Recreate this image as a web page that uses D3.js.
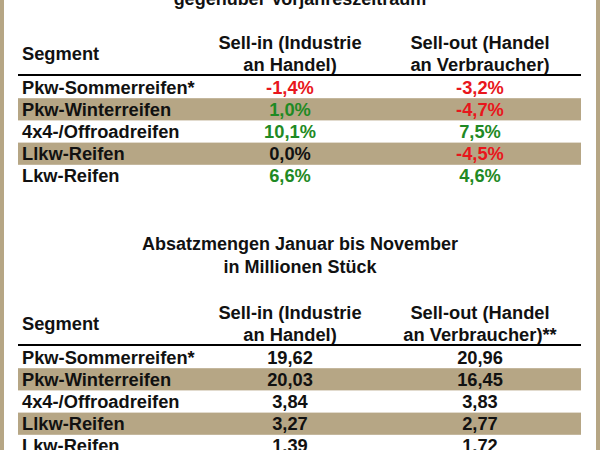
<!DOCTYPE html><html><head><meta charset="utf-8"><script src="https://d3js.org/d3.v7.min.js"></script>
<style>body{margin:0;background:#fff}</style></head><body><svg id="c" width="600" height="450"></svg>
<script>
const segments=["Pkw-Sommerreifen*","Pkw-Winterreifen","4x4-/Offroadreifen","Llkw-Reifen","Lkw-Reifen"];
const changeSellIn=[-1.4,1.0,10.1,0.0,6.6];
const changeSellOut=[-3.2,-4.7,7.5,-4.5,4.6];
const volSellIn=[19.62,20.03,3.84,3.27,1.39];
const volSellOut=[20.96,16.45,3.83,2.77,1.72];
const title1=["gegenüber Vorjahreszeitraum"];
const title2=["Absatzmengen Januar bis November","in Millionen Stück"];
const svg=d3.select("#c");
const font="'Liberation Sans',Arial,sans-serif";
const x=d3.scaleLinear().domain([0,600]).range([0,600]);
svg.append("rect").attr("x",0).attr("y",0).attr("width",4).attr("height",450).attr("fill","#b6a685");
svg.append("rect").attr("x",596).attr("y",0).attr("width",4).attr("height",450).attr("fill","#b6a685");
const fmt=v=>d3.format(".1f")(v).replace(".",",").replace("\u2212","-")+"%";
const fmt2=v=>d3.format(".2f")(v).replace(".",",");
const col=v=>v>0?"#1f8a24":v<0?"#e8161c":"#111";
function txt(t,xx,y,anchor,fill,size){svg.append("text").attr("x",x(xx)).attr("y",y).attr("text-anchor",anchor).attr("dominant-baseline","central").attr("font-family",font).attr("font-weight","bold").attr("font-size",size||18.3).attr("fill",fill||"#111").text(t);}
function table(titles,titleY,headY,vals1,vals2,f1,f2,c1,c2,star){
 titles.forEach((t,i)=>txt(t,300,titleY+i*22.5,"middle","#111",18));
 txt("Segment",22,headY+11,"start");
 txt("Sell-in (Industrie",290,headY,"middle");txt("an Handel)",290,headY+22,"middle");
 txt("Sell-out (Handel",480,headY,"middle");txt("an Verbraucher)"+star,480,headY+22,"middle");
 svg.append("line").attr("x1",18).attr("x2",581).attr("y1",headY+33).attr("y2",headY+33).attr("stroke","#000").attr("stroke-width",2);
 const y=d3.scaleBand().domain(segments).range([headY+34,headY+34+22.2*5]);
 segments.forEach((s,i)=>{
  if(i%2==1)svg.append("rect").attr("x",18).attr("width",563).attr("y",y(s)).attr("height",y.bandwidth()).attr("fill","#b6a685");
  const cy=y(s)+y.bandwidth()/2;
  txt(s,22,cy,"start");
  txt(f1(vals1[i]),290,cy,"middle",c1(vals1[i]));
  txt(f2(vals2[i]),480,cy,"middle",c2(vals2[i]));
 });
}
table(title1,-1,42,changeSellIn,changeSellOut,fmt,fmt,col,col,"");
table(title2,244,312,volSellIn,volSellOut,fmt2,fmt2,()=>"#111",()=>"#111","**");
</script></body></html>
